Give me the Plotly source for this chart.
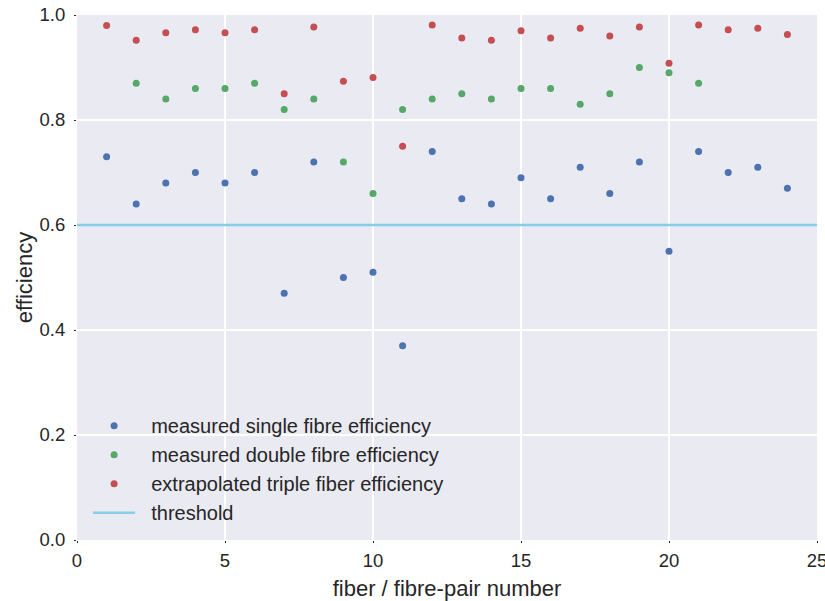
import plotly.graph_objects as go

fiber = list(range(1, 25))
single = [0.73, 0.64, 0.68, 0.70, 0.68, 0.70, 0.47, 0.72, 0.50, 0.51, 0.37, 0.74,
          0.65, 0.64, 0.69, 0.65, 0.71, 0.66, 0.72, 0.55, 0.74, 0.70, 0.71, 0.67]
double_x = list(range(2, 22))
double = [0.87, 0.84, 0.86, 0.86, 0.87, 0.82, 0.84, 0.72, 0.66, 0.82,
          0.84, 0.85, 0.84, 0.86, 0.86, 0.83, 0.85, 0.90, 0.89, 0.87]
triple = [0.980, 0.952, 0.966, 0.972, 0.966, 0.972, 0.850, 0.977, 0.874, 0.881, 0.750, 0.981,
          0.956, 0.952, 0.970, 0.956, 0.975, 0.960, 0.977, 0.908, 0.981, 0.972, 0.975, 0.963]
threshold = 0.6
x_range = [0, 25]

FONT = "Liberation Sans, Arial, Helvetica, sans-serif"
TXT = "#262626"
PAD = "\u00a0\u00a0"  # small gap between legend handle and text

fig = go.Figure()
fig.add_trace(go.Scatter(x=fiber, y=single, mode="markers", name=PAD + "measured single fibre efficiency",
                         marker=dict(color="#4C72B0", size=7)))
fig.add_trace(go.Scatter(x=double_x, y=double, mode="markers", name=PAD + "measured double fibre efficiency",
                         marker=dict(color="#55A868", size=7)))
fig.add_trace(go.Scatter(x=fiber, y=triple, mode="markers", name=PAD + "extrapolated triple fiber efficiency",
                         marker=dict(color="#C44E52", size=7)))
fig.add_trace(go.Scatter(x=x_range, y=[threshold, threshold], mode="lines", name=PAD + "threshold",
                         line=dict(color="#87CEEB", width=2.5)))

fig.update_layout(
    width=825, height=601,
    margin=dict(l=77, r=8, t=15, b=61),
    paper_bgcolor="white", plot_bgcolor="#EAEAF2",
    font=dict(family=FONT, size=18.5, color=TXT),
    showlegend=True,
    legend=dict(x=0.015, y=0.015, xanchor="left", yanchor="bottom",
                bgcolor="rgba(0,0,0,0)", font=dict(size=20, color=TXT),
                itemwidth=42, tracegroupgap=0),
    xaxis=dict(range=x_range, dtick=5, tick0=0, showgrid=True, gridcolor="white", gridwidth=1.5,
               zeroline=False, showline=False, ticks="outside", ticklen=2, tickcolor=TXT,
               automargin=False, ticklabeloverflow="allow", ticklabelstandoff=2,
               title=dict(text="fiber / fibre-pair number", standoff=10),
               tickfont=dict(size=18.5)),
    yaxis=dict(range=[0, 1], dtick=0.2, tick0=0, tickformat=".1f", showgrid=True,
               gridcolor="white", gridwidth=1.5, zeroline=False, showline=False,
               ticks="outside", ticklen=2, tickcolor=TXT,
               automargin=False, ticklabeloverflow="allow", ticklabelstandoff=5,
               title=dict(text="efficiency", standoff=0),
               tickfont=dict(size=18.5)),
)

fig.write_html("out.html", config={"displayModeBar": False},
               post_script="document.body.style.margin='0px';")
